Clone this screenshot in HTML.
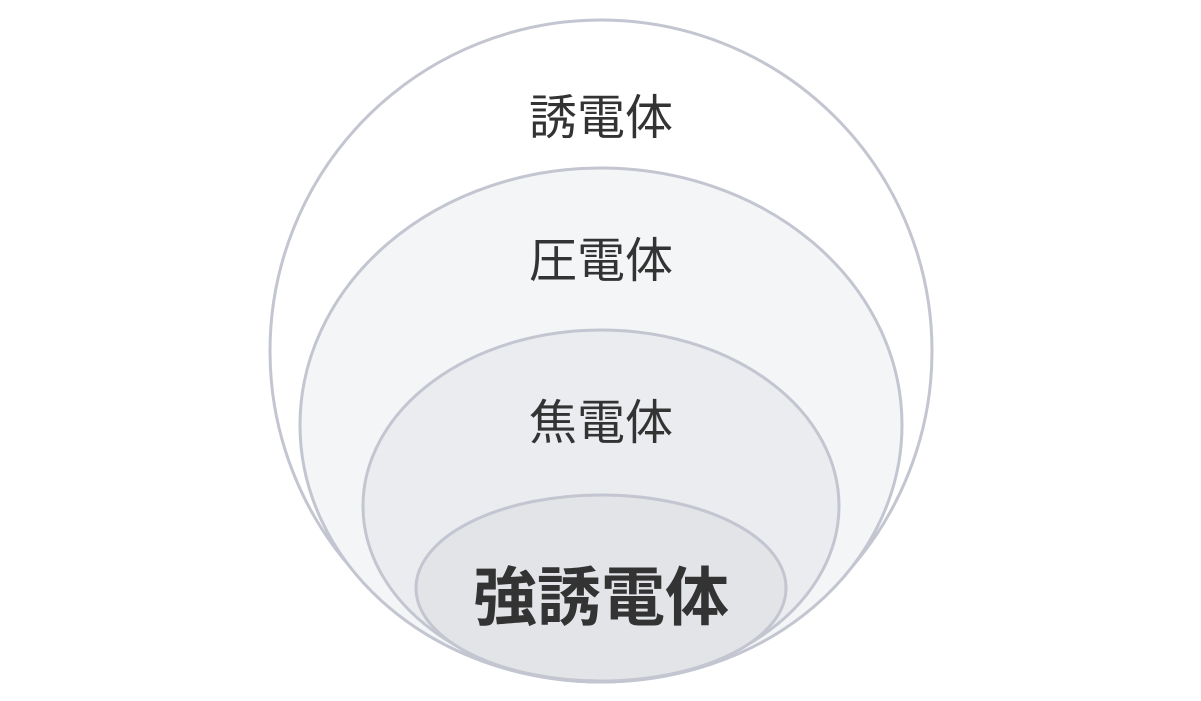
<!DOCTYPE html>
<html><head><meta charset="utf-8"><style>
html,body{margin:0;padding:0;background:#fff;width:1201px;height:701px;overflow:hidden}
</style></head><body>
<svg width="1201" height="701" viewBox="0 0 1201 701" xmlns="http://www.w3.org/2000/svg">
<g stroke="#c3c6d0" stroke-width="3">
<circle cx="601" cy="351" r="331" fill="#ffffff"/>
<ellipse cx="601" cy="425" rx="301" ry="257" fill="#f3f5f7"/>
<ellipse cx="601" cy="506" rx="238" ry="176" fill="#eaecef"/>
<ellipse cx="601" cy="588" rx="185" ry="93" fill="#e2e4e8"/>
</g>
<g font-family="'Liberation Sans','Noto Sans CJK JP',sans-serif" fill="#333" text-anchor="middle">
<text x="601" y="134" font-size="48">誘電体</text>
<text x="601" y="277" font-size="48">圧電体</text>
<text x="601" y="439" font-size="48">焦電体</text>
<text x="601" y="620" font-size="64" font-weight="bold">強誘電体</text>
</g>
</svg>
</body></html>
